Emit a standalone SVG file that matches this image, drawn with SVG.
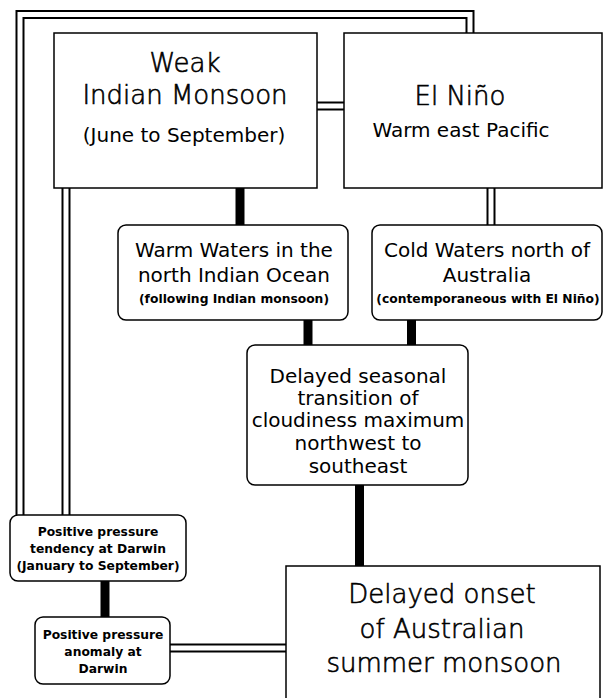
<svg xmlns="http://www.w3.org/2000/svg" width="604" height="698" viewBox="0 0 604 698">
<style>
.box{fill:#fff;stroke:#000;stroke-width:1.5}
.dbl-o{fill:none;stroke:#000;stroke-width:9;stroke-linejoin:miter}
.dbl-i{fill:none;stroke:#fff;stroke-width:5;stroke-linejoin:miter}
.thick{fill:none;stroke:#000;stroke-width:9}
text{font-family:"DejaVu Sans","Liberation Sans",sans-serif;fill:#000;text-anchor:middle}
.big{font-size:26px;font-weight:300;stroke:#000;stroke-width:0.6}
.mid{font-size:20px}
.sml{font-size:12.3px;font-weight:bold}
</style>
<rect width="604" height="698" fill="#fff"/>
<g id="connectors">
<path class="dbl-o" d="M20,515 V14.5 H470 V33"/>
<path class="dbl-i" d="M20,515 V14.5 H470 V33"/>
<path class="dbl-o" d="M66,188 V515"/>
<path class="dbl-i" d="M66,188 V515"/>
<path class="dbl-o" d="M317,106 H344"/>
<path class="dbl-i" d="M317,106 H344"/>
<path class="dbl-o" d="M491,188 V225"/>
<path class="dbl-i" d="M491,188 V225"/>
<path class="dbl-o" d="M170,648 H286"/>
<path class="dbl-i" d="M170,648 H286"/>
<path class="thick" d="M240,188 V225"/>
<path class="thick" d="M308,320 V345"/>
<path class="thick" d="M411.5,320 V345"/>
<path class="thick" d="M359.5,485 V566"/>
<path class="thick" d="M105,581 V617"/>
</g>
<g id="weak-indian-monsoon">
<rect class="box" x="54" y="33" width="263" height="155"/>
<text class="big" x="185" y="72">Weak</text>
<text class="big" x="185" y="104">Indian Monsoon</text>
<text class="mid" x="184" y="142">(June to September)</text>
</g>
<g id="el-nino">
<rect class="box" x="344" y="33" width="258" height="155"/>
<text class="big" x="460" y="105" font-size="27">El Niño</text>
<text class="mid" x="461" y="137">Warm east Pacific</text>
</g>
<g id="warm-waters">
<rect class="box" x="118" y="225" width="230" height="95" rx="8"/>
<text class="mid" x="234" y="257">Warm Waters in the</text>
<text class="mid" x="234" y="282">north Indian Ocean</text>
<text class="sml" x="234" y="303">(following Indian monsoon)</text>
</g>
<g id="cold-waters">
<rect class="box" x="372" y="225" width="230" height="95" rx="8"/>
<text class="mid" x="487" y="257">Cold Waters north of</text>
<text class="mid" x="487" y="282">Australia</text>
<text class="sml" x="488" y="303">(contemporaneous with El Niño)</text>
</g>
<g id="delayed-transition">
<rect class="box" x="247" y="345" width="221" height="140" rx="8"/>
<text class="mid" x="358" y="383" font-size="19.5">Delayed seasonal</text>
<text class="mid" x="358" y="405" font-size="19.5">transition of</text>
<text class="mid" x="358" y="427" font-size="19.5">cloudiness maximum</text>
<text class="mid" x="358" y="450" font-size="19.5">northwest to</text>
<text class="mid" x="358" y="473" font-size="19.5">southeast</text>
</g>
<g id="pressure-tendency">
<rect class="box" x="10" y="515" width="176" height="66" rx="8"/>
<text class="sml" x="98" y="536">Positive pressure</text>
<text class="sml" x="98" y="553">tendency at Darwin</text>
<text class="sml" x="98" y="570">(January to September)</text>
</g>
<g id="pressure-anomaly">
<rect class="box" x="35" y="617" width="135" height="67" rx="8"/>
<text class="sml" x="103" y="639">Positive pressure</text>
<text class="sml" x="103" y="656">anomaly at</text>
<text class="sml" x="103" y="673">Darwin</text>
</g>
<g id="delayed-onset">
<rect class="box" x="286" y="566" width="314" height="150"/>
<text class="big" x="442" y="603">Delayed onset</text>
<text class="big" x="442" y="638">of Australian</text>
<text class="big" x="444" y="672">summer monsoon</text>
</g>
</svg>
